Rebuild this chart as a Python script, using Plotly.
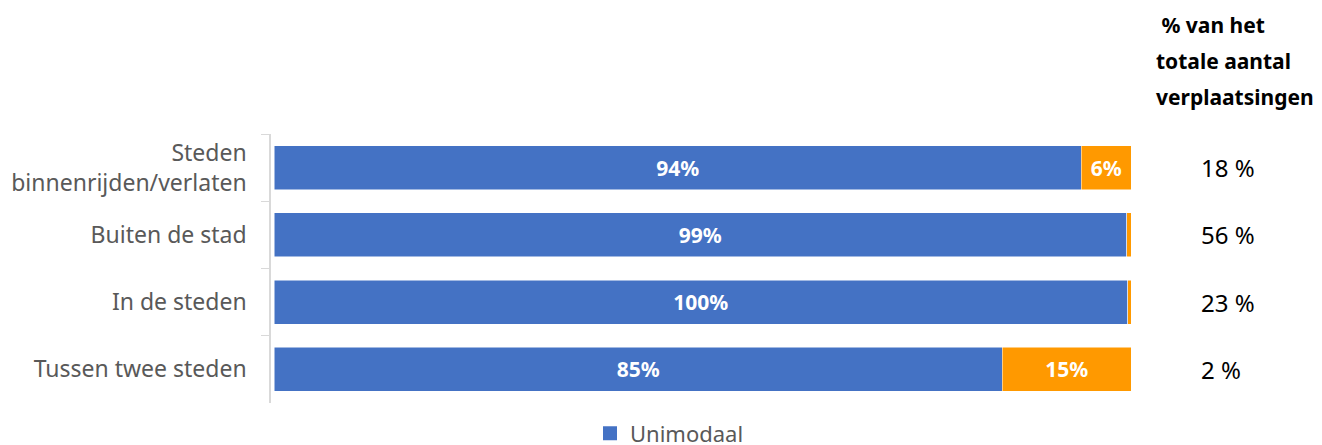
import plotly.graph_objects as go

categories = ["Steden<br>binnenrijden/verlaten", "Buiten de stad", "In de steden", "Tussen twee steden"]
unimodaal = [94.2, 99.5, 99.6, 85.0]
multimodaal = [5.8, 0.5, 0.4, 15.0]
unimodaal_labels = ["94%", "99%", "100%", "85%"]
multimodaal_labels = ["6%", "", "", "15%"]
share_total = ["18 %", "56 %", "23 %", "2 %"]
header_lines = ["\u00a0% van het", "totale aantal", "verplaatsingen"]

BLUE = "#4472C4"
ORANGE = "#FF9900"
FONT = "Noto Sans"

# page has an 8px body margin: work in figure coordinates (screen - 8)
OFF = 8
FW, FH = 1322 - OFF, 445 - OFF
L, R = 271 - OFF, 1131 - OFF
TOP, BOT = 134 - OFF, 403 - OFF
W = R - L
H = BOT - TOP

fig = go.Figure()
fig.add_trace(go.Bar(
    y=categories, x=unimodaal, orientation="h", name="Unimodaal",
    marker=dict(color=BLUE, line=dict(color="white", width=0.5)),
    text=unimodaal_labels, textposition="inside", insidetextanchor="middle",
    textangle=0, constraintext="none",
    textfont=dict(color="white", size=21, family=FONT, weight="bold"),
    width=0.655, hoverinfo="skip", showlegend=False,
))
fig.add_trace(go.Bar(
    y=categories, x=multimodaal, orientation="h", name="Multimodaal",
    marker=dict(color=ORANGE, line=dict(color="white", width=0.5)),
    text=multimodaal_labels, textposition="inside", insidetextanchor="middle",
    textangle=0, constraintext="none",
    textfont=dict(color="white", size=21, family=FONT, weight="bold"),
    width=0.655, showlegend=False, hoverinfo="skip",
))
# legend-only entry with a larger square swatch
fig.add_trace(go.Scatter(
    x=[None], y=[None], mode="markers", name="Unimodaal",
    marker=dict(symbol="square", size=14, color=BLUE),
    showlegend=True, hoverinfo="skip",
))

for cat, val in zip(categories, share_total):
    fig.add_annotation(x=(1199 - OFF - L) / W, xref="paper", y=cat, yref="y",
                       text=val, showarrow=False, xanchor="left",
                       font=dict(size=24, color="black", family=FONT))

for i, line in enumerate(header_lines):
    yc = 25 + i * 36 - OFF
    fig.add_annotation(x=(1154 - OFF - L) / W, xref="paper", y=(BOT - yc) / H, yref="paper",
                       text="<b>" + line + "</b>", showarrow=False, xanchor="left",
                       yanchor="middle",
                       font=dict(size=21, color="black", family=FONT))

fig.update_layout(
    barmode="stack",
    width=FW, height=FH,
    margin=dict(l=L, r=FW - R, t=TOP, b=FH - BOT, autoexpand=False),
    paper_bgcolor="white", plot_bgcolor="white",
    font=dict(family=FONT, size=22, color="#595959"),
    xaxis=dict(range=[-0.35, 100], showgrid=False, showticklabels=False,
               zeroline=False, showline=False, fixedrange=True),
    yaxis=dict(autorange="reversed", showgrid=False, showline=True,
               linecolor="#D9D9D9", linewidth=1.5, ticks="outside",
               tickson="boundaries", ticklen=8, tickcolor="#D9D9D9",
               ticklabelstandoff=18,
               tickfont=dict(size=23, color="#595959", family=FONT)),
    legend=dict(orientation="h", x=(590 - OFF - L) / W, xanchor="left",
                y=-0.035, yanchor="top", itemsizing="trace",
                font=dict(size=22, color="#595959", family=FONT)),
)

fig.write_html("out.html")
